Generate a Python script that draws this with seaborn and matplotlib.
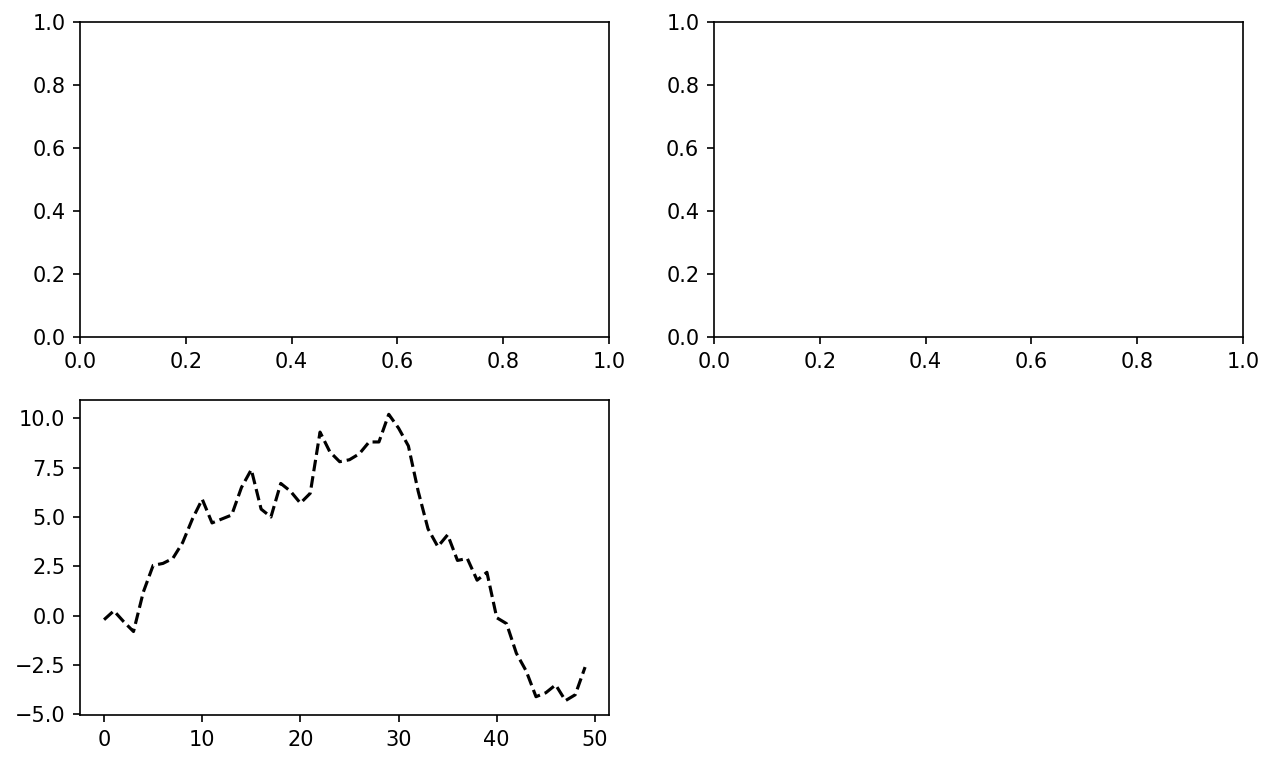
import numpy as np
import matplotlib
matplotlib.use("Agg")
import matplotlib.pyplot as plt
import seaborn as sns

steps = list(range(50))
walk = [-0.2, 0.25, -0.3, -0.8, 1.2, 2.55, 2.65, 2.9, 3.7, 4.9,
        5.9, 4.7, 4.9, 5.1, 6.5, 7.4, 5.4, 5.0, 6.7, 6.3,
        5.7, 6.2, 9.3, 8.3, 7.8, 7.9, 8.2, 8.8, 8.8, 10.2,
        9.5, 8.6, 6.3, 4.4, 3.5, 4.1, 2.8, 2.9, 1.8, 2.2,
        -0.1, -0.4, -1.9, -2.8, -4.1, -3.9, -3.5, -4.3, -4.0, -2.6]

fig = plt.figure(figsize=(1274/150, 765/150), dpi=150)
ax1 = fig.add_subplot(2, 2, 1)
ax2 = fig.add_subplot(2, 2, 2)
ax3 = fig.add_subplot(2, 2, 3)
fig.subplots_adjust(left=0.0628, right=0.9757, top=0.9712, bottom=0.0654,
                    wspace=0.198, hspace=0.2)

sns.lineplot(x=steps, y=walk, ax=ax3, color='k', linestyle='--')

fig.savefig("out.png", dpi=150)
